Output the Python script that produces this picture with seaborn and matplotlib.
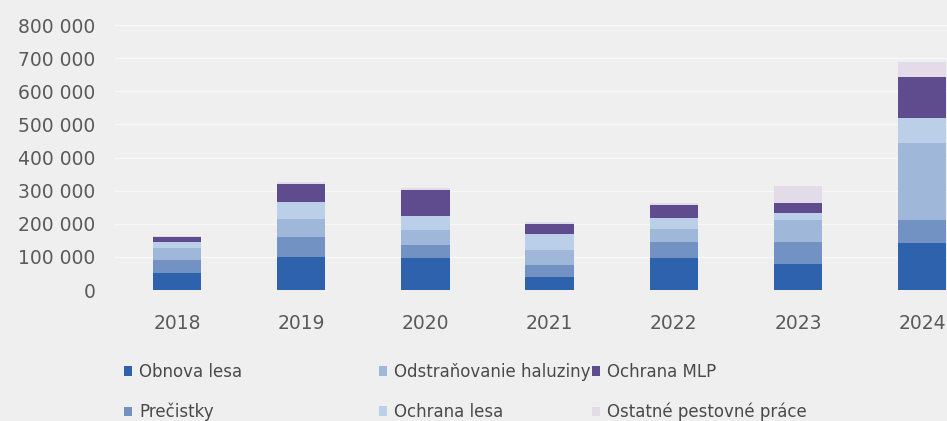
import matplotlib
matplotlib.use("Agg")
import matplotlib.pyplot as plt
import seaborn as sns
import numpy as np
import pandas as pd
from matplotlib.patches import Patch

years = ['2018', '2019', '2020', '2021', '2022', '2023', '2024']
obnova_lesa = [51000, 100000, 97000, 40000, 97000, 80000, 142000]
precistky = [40000, 60000, 40000, 35000, 48000, 65000, 70000]
odstranovanie_haluziny = [35000, 55000, 45000, 45000, 40000, 66000, 233000]
ochrana_lesa = [20000, 50000, 40000, 50000, 32000, 20000, 75000]
ochrana_mlp = [14000, 56000, 80000, 30000, 40000, 33000, 124000]
ostatne = [3000, 5000, 6000, 5000, 5000, 50000, 45000]

series_names = ['Obnova lesa', 'Prečistky', 'Odstraňovanie haluziny',
                'Ochrana lesa', 'Ochrana MLP', 'Ostatné pestovné práce']
series_values = [obnova_lesa, precistky, odstranovanie_haluziny,
                 ochrana_lesa, ochrana_mlp, ostatne]
colors = ['#2f62ad', '#7192c2', '#9fb8da', '#bccfe9', '#5e4c8e', '#e4dbe8']
yticks = [0, 100000, 200000, 300000, 400000, 500000, 600000, 700000, 800000]

sns.set_theme(style="white")
plt.rcParams['font.family'] = ['DejaVu Sans']

W, H = 947, 421
fig = plt.figure(figsize=(W / 100, H / 100), dpi=100)
fig.patch.set_facecolor('#efefef')

ax_left, ax_right, ax_bottom, ax_top = 115, 947, 290, 0
ax = fig.add_axes([ax_left / W, (H - ax_bottom) / H,
                   (ax_right - ax_left) / W, (ax_bottom - ax_top) / H])
ax.set_facecolor('none')

cum = np.cumsum(np.array(series_values), axis=0)
for i in range(len(series_names) - 1, -1, -1):
    df = pd.DataFrame({'year': years, 'value': cum[i]})
    sns.barplot(data=df, x='year', y='value', order=years, color=colors[i],
                saturation=1, width=0.39, ax=ax, edgecolor='none', linewidth=0)

ax.set_xlim(-0.5, 6.2)
ax.set_ylim(0, 290 / 0.3312 * 1000)
ax.set_yticks(yticks)
ax.set_yticklabels([f"{v:,}".replace(',', ' ') for v in yticks])
ax.set_xlabel('')
ax.set_ylabel('')
ax.grid(axis='y', color='#fafafa', linewidth=1.0, alpha=0.9)
ax.set_axisbelow(True)
for s in ax.spines.values():
    s.set_visible(False)
ax.tick_params(axis='y', length=0, pad=14, labelsize=13.5, labelcolor='#5a5a5a')
ax.tick_params(axis='x', length=0, pad=17, labelsize=13.5, labelcolor='#5a5a5a')

handles = [Patch(facecolor=c, edgecolor='none') for c in colors]
col_x = [124, 379, 592]
for j in range(3):
    leg = fig.legend(handles[2 * j:2 * j + 2], series_names[2 * j:2 * j + 2],
                     loc='upper left', bbox_to_anchor=(col_x[j] / W, 1 - 363 / H),
                     frameon=False, fontsize=12, labelcolor='#4a4a4a',
                     handlelength=0.5, handleheight=0.5, handletextpad=0.4,
                     labelspacing=1.3, borderaxespad=0, borderpad=0)

fig.savefig('out.png', dpi=100, facecolor=fig.get_facecolor())
